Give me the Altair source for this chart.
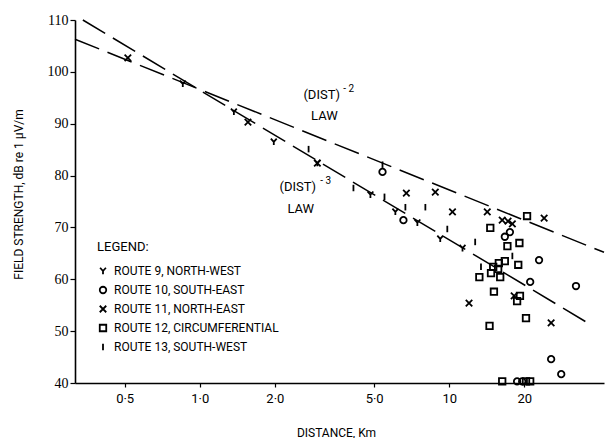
import altair as alt
import pandas as pd

# ---------------- data ----------------
routes = ["ROUTE 9, NORTH-WEST", "ROUTE 10, SOUTH-EAST", "ROUTE 11, NORTH-EAST",
          "ROUTE 12, CIRCUMFERENTIAL", "ROUTE 13, SOUTH-WEST"]

r9_dist = [0.855, 1.37, 1.98, 2.96, 4.83, 6.08, 7.45, 9.20, 11.3]
r9_db = [97.7, 92.3, 86.5, 82.4, 76.3, 73.0, 70.9, 67.8, 66.0]

r10_dist = [5.40, 6.55, 17.5, 16.7, 22.9, 21.1, 32.2, 25.6, 28.1, 18.7, 19.6]
r10_db = [80.7, 71.4, 69.1, 68.2, 63.7, 59.5, 58.7, 44.6, 41.7, 40.3, 40.3]

r11_dist = [0.515, 1.56, 2.96, 6.73, 8.79, 10.3, 14.2, 16.3, 17.2, 17.9, 24.0, 12.0, 18.2, 25.6]
r11_db = [102.7, 90.3, 82.4, 76.6, 76.8, 73.0, 73.0, 71.4, 71.2, 70.7, 71.8, 55.4, 56.8, 51.6]

r12_dist = [14.6, 20.5, 17.1, 19.1, 16.7, 15.8, 15.0, 15.7, 14.7, 16.0, 13.2, 18.9,
            15.1, 19.2, 18.7, 20.3, 14.5, 16.3, 20.3, 21.1]
r12_db = [69.9, 72.2, 66.4, 67.0, 63.5, 63.1, 62.4, 62.0, 61.2, 60.4, 60.4, 62.8,
          57.6, 56.8, 55.8, 52.5, 51.0, 40.3, 40.3, 40.3]

r13_dist = [2.73, 5.40, 4.13, 5.50, 6.67, 8.02, 9.82, 12.7, 13.4, 17.9]
r13_db = [85.1, 82.1, 77.6, 75.9, 73.9, 73.9, 69.7, 67.2, 62.4, 64.5]

law_names = ["DIST-2", "DIST-3"]
law2_dist = [0.3162, 41.7]
law2_db = [106.3, 65.2]
law3_dist = [0.340, 37.0]
law3_db = [110.0, 51.2]

x_ticks = [0.5, 1, 2, 5, 10, 20]
y_ticks = [40, 50, 60, 70, 80, 90, 100, 110]

ann_text = ["(DIST)", "LAW", "(DIST)", "LAW"]
ann_dist = [3.08, 3.16, 2.47, 2.54]
ann_db = [95.5, 91.5, 77.8, 73.6]
sup_text = ["- 2", "- 3"]
sup_dist = [3.95, 3.20]
sup_db = [96.6, 78.9]

# ---------------- tables ----------------
rows = []
for name, xs, ys in zip(routes, [r9_dist, r10_dist, r11_dist, r12_dist, r13_dist],
                        [r9_db, r10_db, r11_db, r12_db, r13_db]):
    for a, b in zip(xs, ys):
        rows.append({"route": name, "dist": a, "db": b})
pts = pd.DataFrame(rows)

lrows = []
for name, xs, ys in zip(law_names, [law2_dist, law3_dist], [law2_db, law3_db]):
    for a, b in zip(xs, ys):
        lrows.append({"law": name, "dist": a, "db": b})
lines = pd.DataFrame(lrows)

ann = pd.DataFrame({"t": ann_text, "dist": ann_dist, "db": ann_db})
sup = pd.DataFrame({"t": sup_text, "dist": sup_dist, "db": sup_db})

SANS = "Roboto"
SERIF = "Liberation Serif"

xscale = alt.Scale(type="log", domain=[0.3162, 41.7], nice=False)
yscale = alt.Scale(domain=[40, 110], nice=False, zero=False)

label_expr = ("datum.value < 10 ? replace(format(datum.value, '.1f'), '.', '\u00b7') "
              ": format(datum.value, 'd')")

xaxis = alt.Axis(values=x_ticks, labelExpr=label_expr, title="DISTANCE, Km",
                 grid=False, tickSize=4, labelPadding=5, labelFont=SANS, labelFontSize=13,
                 titleFont=SANS, titleFontSize=12, titleFontWeight="normal",
                 titleX=261, titleY=49, titleBaseline="middle", titleAlign="center",
                 domainColor="black", domainWidth=1.6, tickColor="black", tickWidth=1.2,
                 labelColor="black", titleColor="black", labelFlush=False)
yaxis = alt.Axis(values=y_ticks, title="FIELD STRENGTH, dB re 1 \u03bcV/m",
                 grid=False, tickSize=5, labelPadding=2, labelFont=SERIF, labelFontSize=14,
                 titleFont=SANS, titleFontSize=12, titleFontWeight="normal",
                 titleX=-57, titleY=174, titleAngle=-90, titleBaseline="middle",
                 titleAlign="center",
                 domainColor="black", domainWidth=1.6, tickColor="black", tickWidth=1.2,
                 labelColor="black", titleColor="black")

Y_PATH = "M-0.9,-1L0,0L0.9,-1M0,0L0,1"
O_PATH = "circle"
X_PATH = "M-1,-1L1,1M-1,1L1,-1"
SQ_PATH = "square"
I_PATH = "M0,-1L0,1"

base_lines = alt.Chart(lines).mark_line(
    color="black", strokeWidth=1.5, strokeDash=[26, 9]
).encode(
    x=alt.X("dist:Q", scale=xscale, axis=xaxis),
    y=alt.Y("db:Q", scale=yscale, axis=yaxis),
    detail="law:N",
)

points = alt.Chart(pts).mark_point(
    filled=False, color="black", strokeWidth=1.8, size=42, opacity=1
).encode(
    x=alt.X("dist:Q", scale=xscale),
    y=alt.Y("db:Q", scale=yscale),
    shape=alt.Shape(
        "route:N",
        scale=alt.Scale(domain=routes, range=[Y_PATH, O_PATH, X_PATH, SQ_PATH, I_PATH]),
        legend=alt.Legend(
            title="LEGEND:", orient="none", legendX=22, legendY=221,
            titleFont=SANS, titleFontSize=13, titleFontWeight="normal", titleColor="black",
            labelFont=SANS, labelFontSize=12, labelColor="black", labelOffset=5,
            symbolSize=42, symbolStrokeWidth=1.8, symbolStrokeColor="black",
            symbolFillColor="transparent", rowPadding=5, titlePadding=11,
            labelLimit=400,
        ),
    ),
)

ann_layer = alt.Chart(ann).mark_text(
    font=SANS, fontSize=13, color="black", align="center", baseline="middle"
).encode(
    x=alt.X("dist:Q", scale=xscale),
    y=alt.Y("db:Q", scale=yscale),
    text="t:N",
)

sup_layer = alt.Chart(sup).mark_text(
    font=SANS, fontSize=10, color="black", align="center", baseline="middle"
).encode(
    x=alt.X("dist:Q", scale=xscale),
    y=alt.Y("db:Q", scale=yscale),
    text="t:N",
)

chart = alt.layer(base_lines, points, ann_layer, sup_layer).properties(
    width=529, height=363,
    autosize=alt.AutoSizeParams(type="none"),
    padding={"left": 75, "top": 20, "right": 2, "bottom": 55},
    background="white",
).configure_view(stroke=None)

chart.save("out.html", embed_options={"renderer": "svg", "actions": False})
